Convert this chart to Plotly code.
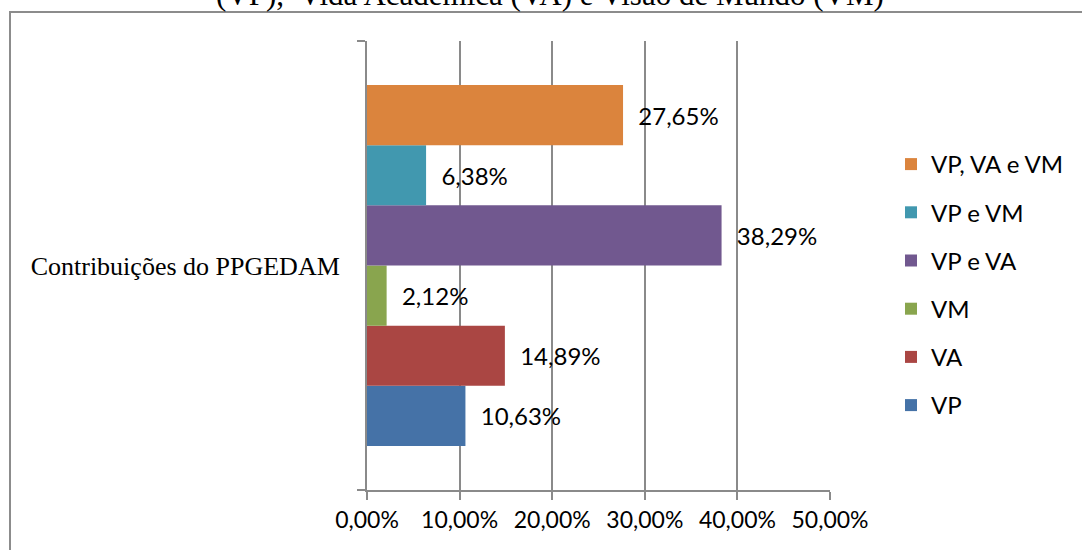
import plotly.graph_objects as go

# Contribuições do PPGEDAM por dimensão (percentual de respostas)
category = ["Contribuições do PPGEDAM"]
series_names = ["VP", "VA", "VM", "VP e VA", "VP e VM", "VP, VA e VM"]
series_values = [0.1063, 0.1489, 0.0212, 0.3829, 0.0638, 0.2765]
series_colors = ["#4572A7", "#AA4643", "#89A54E", "#71588F", "#4198AF", "#DB843D"]
x_ticks = [0.0, 0.1, 0.2, 0.3, 0.4, 0.5]

SANS = "Lato, Carlito, Calibri, sans-serif"
SERIF = "Liberation Serif, Times New Roman, serif"
GRID = "#8a8a8a"

W, H = 1082, 550
ML, MR, MT, MB = 367, 252, 41, 60
PW, PH = W - ML - MR, H - MT - MB


def px_to_paper_x(px):
    return (px - ML) / PW


def px_to_paper_y(py):
    return 1 - (py - MT) / PH


fig = go.Figure()
n = len(series_names)
for i, (name, val, color) in enumerate(zip(series_names, series_values, series_colors)):
    fig.add_trace(go.Bar(
        x=[val],
        y=category,
        name=name,
        orientation="h",
        marker=dict(color=color, line=dict(width=0)),
        texttemplate="\u00a0\u00a0%{x:.2%}",
        textposition="outside",
        textfont=dict(family=SANS, size=24, color="#000000"),
        cliponaxis=False,
        legendgroup=f"g{i}",
        legendrank=n - i,
        hoverinfo="skip",
    ))

fig.update_layout(
    width=W,
    height=H,
    margin=dict(l=ML, r=MR, t=MT, b=MB, pad=0),
    paper_bgcolor="white",
    plot_bgcolor="white",
    barmode="group",
    bargap=0.196,
    bargroupgap=0,
    separators=",.",
    showlegend=True,
    legend=dict(
        x=px_to_paper_x(891),
        xanchor="left",
        y=px_to_paper_y(285),
        yanchor="middle",
        traceorder="grouped",
        tracegroupgap=14,
        font=dict(family=SANS, size=24, color="#000000"),
        bgcolor="rgba(0,0,0,0)",
    ),
    xaxis=dict(
        range=[0, 0.5],
        tickvals=x_ticks,
        tickformat=".2%",
        showgrid=True,
        gridcolor=GRID,
        gridwidth=1.5,
        zeroline=False,
        showline=True,
        linecolor=GRID,
        linewidth=2,
        ticks="outside",
        ticklen=8,
        tickwidth=2,
        tickcolor=GRID,
        tickfont=dict(family=SANS, size=23, color="#000000"),
        fixedrange=True,
    ),
    yaxis=dict(
        type="category",
        showgrid=False,
        zeroline=False,
        showline=True,
        linecolor=GRID,
        linewidth=2,
        ticks="outside",
        tickson="boundaries",
        ticklen=8,
        tickwidth=2,
        tickcolor=GRID,
        ticklabelstandoff=20,
        tickfont=dict(family=SERIF, size=26, color="#000000"),
        fixedrange=True,
    ),
)

# Chart title (second line of the caption)
fig.add_annotation(
    text="(VP),  Vida Acadêmica (VA) e Visão de Mundo (VM)",
    xref="paper", yref="paper",
    x=px_to_paper_x(550), y=px_to_paper_y(14),
    xanchor="center", yanchor="bottom",
    showarrow=False,
    font=dict(family=SERIF, size=31, color="#000000"),
)

# Frame of the chart area
fig.add_shape(
    type="rect",
    xref="paper", yref="paper",
    x0=px_to_paper_x(10), x1=px_to_paper_x(1200),
    y0=px_to_paper_y(700), y1=px_to_paper_y(12),
    line=dict(color="#8c8c8c", width=2),
    fillcolor="rgba(0,0,0,0)",
    layer="below",
)

fig.write_html("out.html")
